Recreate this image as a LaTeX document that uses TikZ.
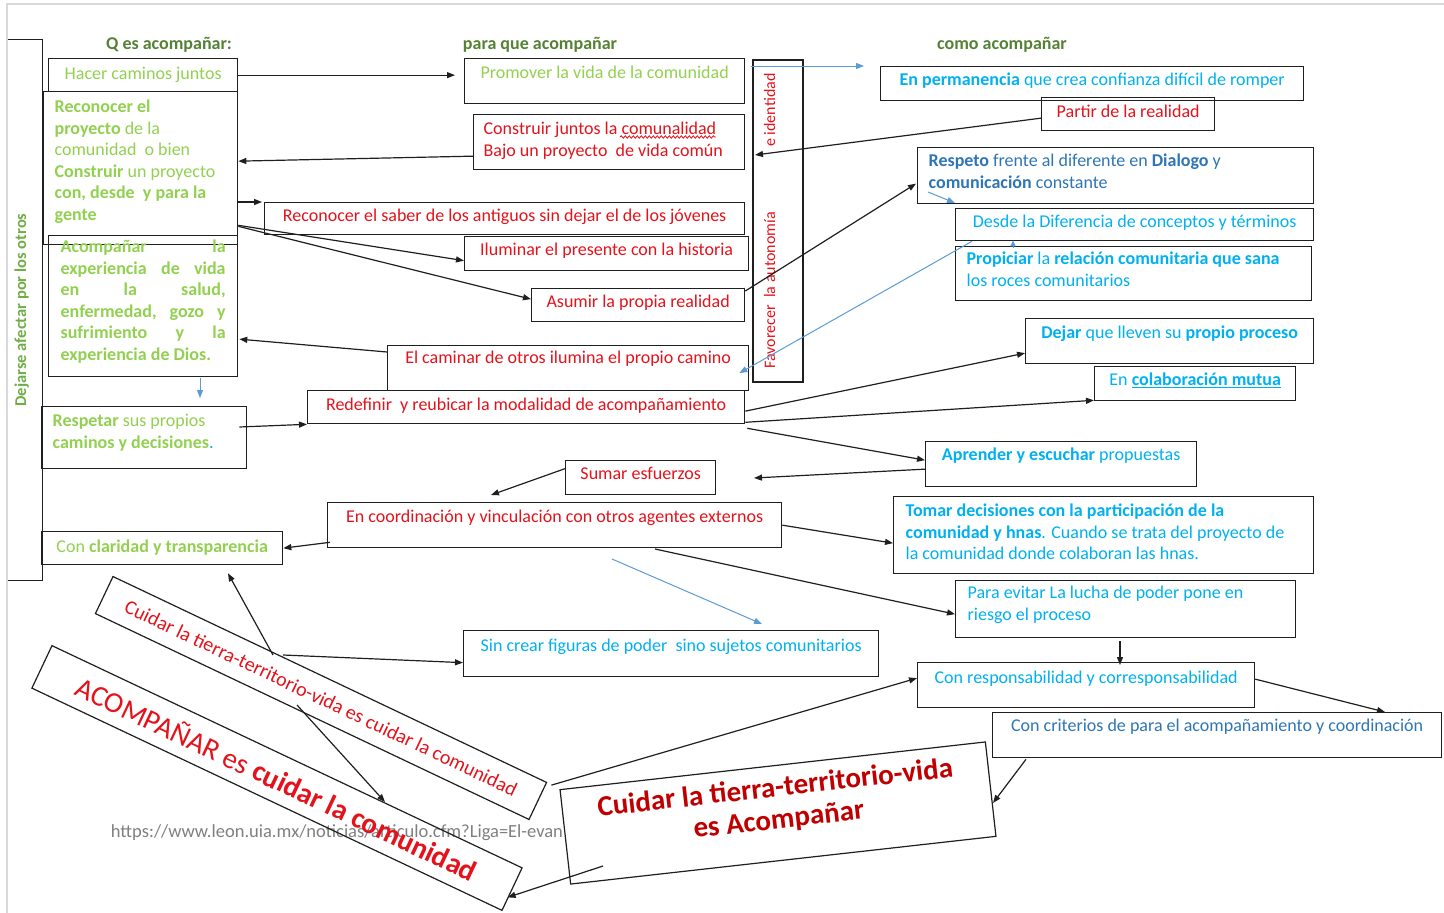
\documentclass[tikz,border=0pt]{standalone}
\usepackage{fontspec}
\setmainfont{Carlito}
\usepackage{tikz}
\usetikzlibrary{arrows.meta,calc,decorations.pathmorphing}
\definecolor{vink}{HTML}{1F1F1F}
\definecolor{vlime}{HTML}{92D050}
\definecolor{vleaf}{HTML}{70AD47}
\definecolor{vmoss}{HTML}{548235}
\definecolor{vred}{HTML}{E3121B}
\definecolor{vdkred}{HTML}{C00000}
\definecolor{vcyan}{HTML}{00B0F0}
\definecolor{vsteel}{HTML}{2E75B6}
\definecolor{vsky}{HTML}{5B9BD5}
\definecolor{vpage}{HTML}{D9D9D9}
\definecolor{vurl}{HTML}{7F7F7F}
\newcommand\boxfont{\fontsize{18pt}{21.5pt}\selectfont}
\tikzset{
  box/.style={draw=vink,line width=1.3pt,anchor=north west,inner xsep=10pt,inner ysep=0pt,align=center,font=\boxfont},
  sz/.style n args={3}{minimum width=#1pt,text height=#2pt,text depth=#3pt},
  gbox/.style={box,text=vlime},
  rbox/.style={box,text=vred},
  cbox/.style={box,text=vcyan},
  sbox/.style={box,text=vsteel},
  tilt/.style={draw=vink,line width=1.2pt,inner xsep=8pt,inner ysep=0pt,align=center,text=vred},
  head/.style={font=\boxfont\bfseries,text=vmoss},
  side/.style={inner sep=0pt,font=\fontsize{16.5pt}{20pt}\selectfont\bfseries,text=vleaf},
  edge/.style={draw=vink,line width=1.3pt},
  arr/.style={-{Triangle[length=8pt,width=6pt]},line width=1.2pt,draw=vink},
  barr/.style={-{Triangle[length=8pt,width=6pt]},line width=1pt,draw=vsky},
}

\begin{document}
\begin{tikzpicture}[x=1pt,y=-1pt]
\useasboundingbox (0,0) rectangle (1444,913);
\draw[vpage,line width=1.5pt] (7,913) -- (7,4) -- (1444,4);

% cabeceras
\node[head] (h1) at (169,45) {Q es acompañar:};
\node[head] (h2) at (540,45) {para que acompañar};
\node[head] (h3) at (1002,45) {como acompañar};

% columna izquierda
\node[side,rotate=90,minimum width=540pt,text height=18pt,text depth=16pt] (dl) at (25,310) {Dejarse afectar por los otros};
\draw[edge] (dl.north east) -- (dl.south east) -- (dl.south west) -- (dl.north west);
\node[gbox,sz={189}{21}{12}] (hc) at (48,58) {Hacer caminos juntos};
\node[gbox,sz={194}{21}{132},text width=172pt,align=flush left] (rp) at (43,91) {\textbf{Reconocer el}\\\textbf{proyecto} de la\\comunidad\ \ o bien\\\textbf{Construir} un proyecto\\\textbf{con, desde\ \ y para la}\\\textbf{gente}};
\node[gbox,sz={189}{17}{124},text width=165pt,align=flush left,font=\boxfont\bfseries] (ae) at (48,235) {Acompañar \hfill la\\experiencia \hfill de \hfill vida\\en \hfill la \hfill salud,\\enfermedad, \hfill gozo \hfill y\\sufrimiento \hfill y \hfill la\\experiencia de Dios.};
\node[gbox,sz={205}{20}{42},text width=183pt,align=flush left] (rs) at (41,406) {\textbf{Respetar} sus propios\\\textbf{caminos y decisiones}{\color{vcyan}.}};
\node[gbox,sz={241}{21}{12}] (cc) at (41,531) {Con \textbf{claridad y transparencia}};

% columna central
\node[gbox,sz={280}{20}{25}] (pv) at (464,58) {Promover la vida de la comunidad};
\node[rbox,sz={271}{20}{35},text width=251pt,align=flush left] (cj) at (473,114) {Construir juntos la comunalidad\\Bajo un proyecto\ \ de vida común};
\draw[vred,line width=0.8pt,decorate,decoration={snake,amplitude=1.2pt,segment length=4pt}] ($(cj.north west)+(147,23)$) -- ($(cj.north west)+(243,23)$);
\node[rbox,sz={480}{19}{13}] (rsab) at (264,202) {Reconocer el saber de los antiguos sin dejar el de los jóvenes};
\node[rbox,sz={284}{19}{15}] (il) at (464,236) {Iluminar el presente con la historia};
\node[rbox,sz={213}{19}{14}] (as) at (531,288) {Asumir la propia realidad};
\node[rbox,sz={361}{18}{27}] (ec) at (387,345) {El caminar de otros ilumina el propio camino};
\node[rbox,sz={437}{20}{13}] (rd) at (307,390) {Redefinir\ \ y reubicar la modalidad de acompañamiento};
\node[rbox,sz={150}{19}{15}] (se) at (565,460) {Sumar esfuerzos};
\node[rbox,sz={454}{20}{25}] (co) at (327,502) {En coordinación y vinculación con otros agentes externos};
\node[cbox,sz={415}{21}{25}] (sc) at (463,630) {Sin crear figuras de poder\ \ sino sujetos comunitarios};
\node[tilt,rotate=90,minimum width=322pt,text width=295pt,text height=22pt,text depth=28pt,align=flush left,font=\fontsize{16pt}{19pt}\selectfont] (fav) at (778,221) {Favorecer\ \ la autonomía\hfill e identidad};

% columna derecha
\node[cbox,sz={423}{19}{15}] (ep) at (880,66) {\textbf{En permanencia} que crea confianza difícil de romper};
\node[rbox,sz={173}{20}{13}] (pr) at (1041,97) {Partir de la realidad};
\node[sbox,sz={396}{19}{37},text width=374pt,align=flush left] (rf) at (917,147) {\textbf{Respeto} frente al diferente en \textbf{Dialogo} y\\\textbf{comunicación} constante};
\node[cbox,sz={358}{19}{13}] (dd) at (955,208) {Desde la Diferencia de conceptos y términos};
\node[cbox,sz={356}{18}{36},text width=334pt,align=flush left] (pc) at (955,246) {\textbf{Propiciar} la \textbf{relación comunitaria que sana}\\los roces comunitarios};
\node[cbox,sz={288}{20}{25}] (dq) at (1025,318) {\textbf{Dejar} que lleven su \textbf{propio proceso}};
\node[cbox,sz={201}{19}{15}] (cm) at (1094,366) {En \underline{\textbf{colaboración mutua}}};
\node[cbox,sz={271}{19}{26}] (ap) at (925,441) {\textbf{Aprender y escuchar} propuestas};
\node[cbox,sz={420}{20}{57},text width=396pt,align=flush left] (td) at (893,496) {\textbf{Tomar decisiones con la participación de la}\\\textbf{comunidad y hnas}. Cuando se trata del proyecto de\\la comunidad donde colaboran las hnas.};
\node[cbox,sz={340}{18}{39},text width=316pt,align=flush left] (pe) at (955,580) {Para evitar La lucha de poder pone en\\riesgo el proceso};
\node[cbox,sz={337}{21}{24}] (cr) at (917,662) {Con responsabilidad y corresponsabilidad};
\node[sbox,sz={449}{19}{26}] (ccr) at (992,712) {Con criterios de para el acompañamiento y coordinación};

% abajo
\node[text=vurl,font=\fontsize{18.5pt}{22pt}\selectfont] (url) at (337,833) {https://www.leon.uia.mx/noticias/articulo.cfm?Liga=El-evan};
\node[tilt,rotate=-25.4,minimum width=480pt,minimum height=41pt,font=\fontsize{20pt}{24pt}\selectfont] (ct) at (321,698) {Cuidar la tierra-territorio-vida es cuidar la comunidad};
\node[tilt,rotate=-25.3,minimum width=520pt,minimum height=47pt,font=\fontsize{29pt}{34pt}\selectfont] (ac) at (277,778) {ACOMPAÑAR es \textbf{cuidar la comunidad}};
\node[tilt,rotate=6.4,minimum width=428pt,text width=408pt,text height=31pt,text depth=64pt,align=flush center,text=vdkred,font=\fontsize{29pt}{32pt}\selectfont\bfseries] (big) at (778,813) {Cuidar la tierra-territorio-vida\\es Acompañar};

% extremos libres
\coordinate (bt) at (864,66);
\coordinate (sx) at (754,478);
\coordinate (sy) at (491,495);
\coordinate (b1) at (612,559);
\coordinate (b2) at (762,624);

% conectores
\draw[arr] (hc.east) -- ($(pv.west)+(-9,-6)$);
\draw[arr] ($(cj.west)+(0,14)$) -- ($(rp.east)+(0,-7)$);
\draw[arr] ($(rp.north east)+(0,111)$) -- ($(rsab.north west)+(-2,0)$);
\draw[arr] ($(rp.south east)+(0,-20)$) -- ($(il.west)+(0,7)$);
\draw[arr] ($(rp.south east)+(0,-19)$) -- ($(as.west)+(0,-6)$);
\draw[arr] ($(pr.west)+(0,4)$) -- ($(fav.center)+(-23,-66)$);
\draw[arr] ($(as.north east)+(0,3)$) -- ($(rf.west)+(-1,8)$);
\draw[barr] ($(fav.center)+(-27,-155)$) -- (bt);
\draw[barr] ($(rf.north west)+(11,45)$) -- ($(dd.north west)+(0,-5)$);
\draw[barr,-{Triangle[length=6pt,width=5pt]}] ($(pc.north west)+(58,2)$) -- ($(dd.south west)+(58,-1)$);
\draw[barr] ($(dd.south west)+(17,0)$) -- ($(ec.east)+(-10,5)$);
\draw[barr] ($(ae.south west)+(152,1)$) -- ($(rs.north west)+(159,-8)$);
\draw[arr] ($(ec.north west)+(0,7)$) -- ($(ae.east)+(1,33)$);
\draw[arr] ($(rs.north east)+(-8,21)$) -- (rd.south west);
\draw[arr] ($(rd.east)+(0,4)$) -- ($(dq.west)+(0,12)$);
\draw[arr] ($(rd.south east)+(0,-2)$) -- ($(cm.south west)+(0,-1)$);
\draw[arr] ($(rd.south east)+(2,4)$) -- ($(ap.west)+(0,-4)$);
\draw[arr] ($(ap.west)+(0,5)$) -- (sx);
\draw[arr] ($(se.west)+(0,-9)$) -- (sy);
\draw[arr] ($(co.south west)+(3,-6)$) -- (cc.east);
\draw[arr] (co.east) -- ($(td.west)+(0,8)$);
\draw[arr] ($(co.north west)+(328,47)$) -- ($(pe.west)+(0,5)$);
\draw[barr] (b1) -- (b2);
\draw[arr] ($(pe.south west)+(165,3)$) -- ($(cr.north west)+(203,3)$);
\draw[arr] ($(cr.east)+(0,-6)$) -- ($(ccr.north west)+(393,0)$);
\draw[arr] ($(ccr.south west)+(34,1)$) -- ($(big.center)+(215,-10)$);
\draw[arr] ($(ct.north east)+(4,3)$) -- ($(cr.west)+(0,-7)$);
\draw[arr] ($(big.center)+(-175,53)$) -- ($(ac.east)+(-5,8)$);
\draw[arr] ($(ct.center)+(-48,-43)$) -- ($(cc.south west)+(187,8)$);
\draw[arr] ($(ct.center)+(-38,-43)$) -- ($(sc.west)+(0,9)$);
\draw[arr] ($(ct.center)+(-24,7)$) -- ($(ac.center)+(108,24)$);
\end{tikzpicture}
\end{document}
